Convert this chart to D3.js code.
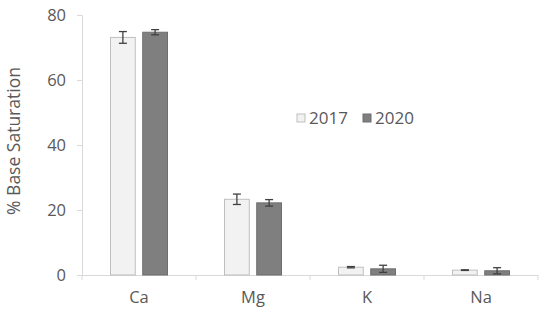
<!DOCTYPE html>
<html>
<head>
<meta charset="utf-8">
<script src="https://cdn.jsdelivr.net/npm/d3@7"></script>
<style>
  body { margin: 0; background: #fff; }
  text { font-family: "Open Sans", sans-serif; fill: #595959; }
</style>
</head>
<body>
<div id="chart"></div>
<script>
var categories = ["Ca", "Mg", "K", "Na"];
var years = ["2017", "2020"];
var values2017 = [73.1, 23.3, 2.4, 1.5];
var values2020 = [74.7, 22.2, 1.9, 1.3];
var err2017 = [1.8, 1.6, 0.2, 0.1];
var err2020 = [0.8, 1.0, 1.1, 0.95];
var yTicks = [0, 20, 40, 60, 80];

var margin = {top: 15, right: 12, bottom: 38, left: 82};
var width = 550 - margin.left - margin.right;
var height = 313 - margin.top - margin.bottom;

var colors = {"2017": "#f2f2f2", "2020": "#7f7f7f"};
var strokes = {"2017": "#bfbfbf", "2020": "#6f6f6f"};

var svg = d3.select('#chart')
  .append('svg')
    .attr('width', 550)
    .attr('height', 313)
  .append('g')
    .attr('transform', 'translate(' + margin.left + ',' + margin.top + ')');

var x = d3.scaleBand()
  .domain(categories)
  .range([0, width]);

var x1 = d3.scaleBand()
  .domain(years)
  .range([28, 86])
  .paddingInner(0.2);

var y = d3.scaleLinear()
  .domain([0, 80])
  .range([height, 0]);

var data = [];
categories.forEach(function(c, i) {
  data.push({cat: c, year: "2017", v: values2017[i], e: err2017[i]});
  data.push({cat: c, year: "2020", v: values2020[i], e: err2020[i]});
});

// y axis
var yAxis = svg.append('g')
  .call(d3.axisLeft(y).tickValues(yTicks).tickSize(5).tickPadding(11));
yAxis.selectAll('line, path').attr('stroke', '#d9d9d9');
yAxis.selectAll('text').style('font-size', '16.5px').attr('fill', '#595959');

// x axis
var xAxis = svg.append('g')
  .attr('transform', 'translate(0,' + height + ')')
  .call(d3.axisBottom(x).tickSize(0).tickPadding(16));
xAxis.select('path').attr('stroke', '#d9d9d9');
xAxis.selectAll('text').style('font-size', '16.5px').attr('fill', '#595959');
// category separators
xAxis.selectAll('.sep')
  .data(categories.concat(['end']))
  .enter().append('line')
    .attr('x1', function(d, i) { return i * x.bandwidth(); })
    .attr('x2', function(d, i) { return i * x.bandwidth(); })
    .attr('y1', 0).attr('y2', 5)
    .attr('stroke', '#d9d9d9');

// bars
svg.selectAll('.bar')
  .data(data)
  .enter().append('rect')
    .attr('x', function(d) { return x(d.cat) + x1(d.year) + 0.5; })
    .attr('y', function(d) { return y(d.v); })
    .attr('width', x1.bandwidth() - 1)
    .attr('height', function(d) { return height - y(d.v); })
    .attr('fill', function(d) { return colors[d.year]; })
    .attr('stroke', function(d) { return strokes[d.year]; })
    .attr('stroke-width', 1);

// error bars
var eb = svg.selectAll('.err')
  .data(data)
  .enter().append('g')
    .attr('transform', function(d) { return 'translate(' + (x(d.cat) + x1(d.year) + x1.bandwidth() / 2) + ',0)'; });
eb.append('line')
  .attr('y1', function(d) { return y(d.v + d.e); })
  .attr('y2', function(d) { return y(d.v - d.e); })
  .attr('stroke', '#404040').attr('stroke-width', 1.3);
eb.append('line')
  .attr('x1', -4).attr('x2', 4)
  .attr('y1', function(d) { return y(d.v + d.e); })
  .attr('y2', function(d) { return y(d.v + d.e); })
  .attr('stroke', '#404040').attr('stroke-width', 1.3);
eb.append('line')
  .attr('x1', -4).attr('x2', 4)
  .attr('y1', function(d) { return y(d.v - d.e); })
  .attr('y2', function(d) { return y(d.v - d.e); })
  .attr('stroke', '#404040').attr('stroke-width', 1.3);

// y axis title
svg.append('text')
  .attr('transform', 'translate(' + (-62) + ',' + (height / 2 - 4) + ') rotate(-90)')
  .style('text-anchor', 'middle')
  .style('font-size', '17.5px')
  .text('% Base Saturation');

// legend
var legend = svg.append('g')
  .attr('transform', 'translate(215,99)');
years.forEach(function(yr, i) {
  var g = legend.append('g').attr('transform', 'translate(' + (i * 66) + ',0)');
  g.append('rect')
    .attr('width', 8).attr('height', 8)
    .attr('fill', colors[yr])
    .attr('stroke', strokes[yr]);
  g.append('text')
    .attr('x', 12).attr('y', 10)
    .style('font-size', '17px')
    .text(yr);
});
</script>
</body>
</html>
